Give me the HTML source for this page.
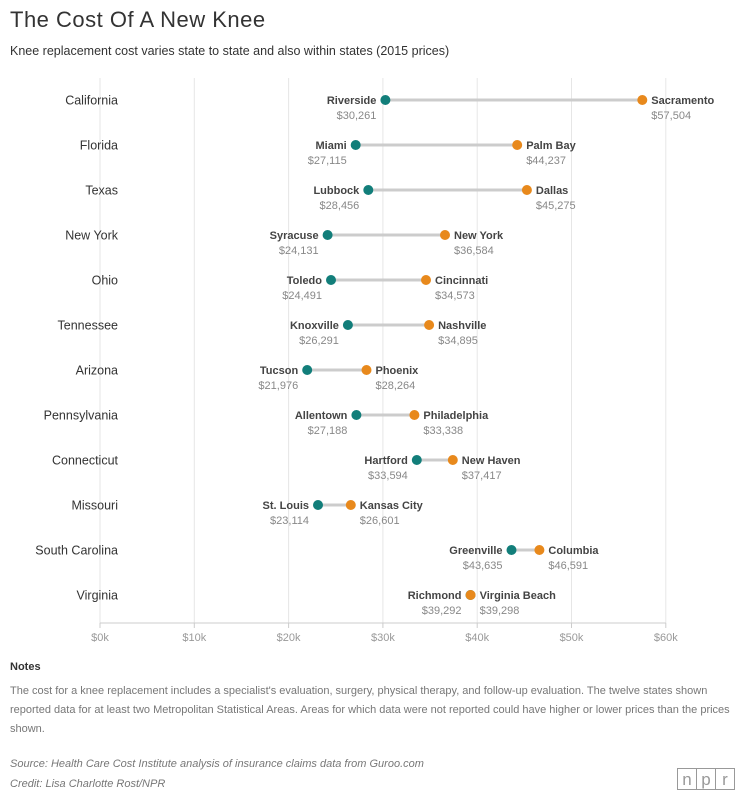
<!DOCTYPE html>
<html><head><meta charset="utf-8"><style>
body{margin:0;background:#fff;}
svg{display:block;font-family:"Liberation Sans",sans-serif;}
.st{font-size:12.5px;fill:#333;text-anchor:end}
.cl{font-size:11px;font-weight:bold;fill:#444;text-anchor:end}
.vl{font-size:11px;fill:#888;text-anchor:end}
.cr{font-size:11px;font-weight:bold;fill:#444}
.vr{font-size:11px;fill:#888}
.ln{stroke:#ccc;stroke-width:3}
.t{fill:#127e7a}.o{fill:#e8891c}
</style></head><body>
<svg width="741" height="798" xmlns="http://www.w3.org/2000/svg">
<text x="10" y="27" font-size="22" fill="#333" letter-spacing="0.5">The Cost Of A New Knee</text>
<text x="10" y="55" font-size="12.5" fill="#333">Knee replacement cost varies state to state and also within states (2015 prices)</text>
<g stroke="#e6e6e6" stroke-width="1">
<line x1="100" y1="78" x2="100" y2="623"/><line x1="194.3" y1="78" x2="194.3" y2="623"/><line x1="288.6" y1="78" x2="288.6" y2="623"/><line x1="382.9" y1="78" x2="382.9" y2="623"/><line x1="477.2" y1="78" x2="477.2" y2="623"/><line x1="571.5" y1="78" x2="571.5" y2="623"/><line x1="665.8" y1="78" x2="665.8" y2="623"/>
</g>
<line x1="100" y1="623" x2="665.8" y2="623" stroke="#ccc"/>
<g stroke="#ccc"><line x1="100" y1="623" x2="100" y2="628"/><line x1="194.3" y1="623" x2="194.3" y2="628"/><line x1="288.6" y1="623" x2="288.6" y2="628"/><line x1="382.9" y1="623" x2="382.9" y2="628"/><line x1="477.2" y1="623" x2="477.2" y2="628"/><line x1="571.5" y1="623" x2="571.5" y2="628"/><line x1="665.8" y1="623" x2="665.8" y2="628"/></g>
<g font-size="11" fill="#999" text-anchor="middle">
<text x="100" y="641">$0k</text><text x="194.3" y="641">$10k</text><text x="288.6" y="641">$20k</text><text x="382.9" y="641">$30k</text><text x="477.2" y="641">$40k</text><text x="571.5" y="641">$50k</text><text x="665.8" y="641">$60k</text>
</g>

<text class="st" x="118" y="104.5">California</text>
<line class="ln" x1="385.4" y1="100" x2="642.3" y2="100"/><circle class="t" cx="385.4" cy="100" r="5"/><circle class="o" cx="642.3" cy="100" r="5"/>
<text class="cl" x="376.4" y="104">Riverside</text><text class="vl" x="376.4" y="119">$30,261</text>
<text class="cr" x="651.3" y="104">Sacramento</text><text class="vr" x="651.3" y="119">$57,504</text>

<text class="st" x="118" y="149.5">Florida</text>
<line class="ln" x1="355.7" y1="145" x2="517.2" y2="145"/><circle class="t" cx="355.7" cy="145" r="5"/><circle class="o" cx="517.2" cy="145" r="5"/>
<text class="cl" x="346.7" y="149">Miami</text><text class="vl" x="346.7" y="164">$27,115</text>
<text class="cr" x="526.2" y="149">Palm Bay</text><text class="vr" x="526.2" y="164">$44,237</text>

<text class="st" x="118" y="194.5">Texas</text>
<line class="ln" x1="368.3" y1="190" x2="526.9" y2="190"/><circle class="t" cx="368.3" cy="190" r="5"/><circle class="o" cx="526.9" cy="190" r="5"/>
<text class="cl" x="359.3" y="194">Lubbock</text><text class="vl" x="359.3" y="209">$28,456</text>
<text class="cr" x="535.9" y="194">Dallas</text><text class="vr" x="535.9" y="209">$45,275</text>

<text class="st" x="118" y="239.5">New York</text>
<line class="ln" x1="327.6" y1="235" x2="445" y2="235"/><circle class="t" cx="327.6" cy="235" r="5"/><circle class="o" cx="445" cy="235" r="5"/>
<text class="cl" x="318.6" y="239">Syracuse</text><text class="vl" x="318.6" y="254">$24,131</text>
<text class="cr" x="454" y="239">New York</text><text class="vr" x="454" y="254">$36,584</text>

<text class="st" x="118" y="284.5">Ohio</text>
<line class="ln" x1="331" y1="280" x2="426" y2="280"/><circle class="t" cx="331" cy="280" r="5"/><circle class="o" cx="426" cy="280" r="5"/>
<text class="cl" x="322" y="284">Toledo</text><text class="vl" x="322" y="299">$24,491</text>
<text class="cr" x="435" y="284">Cincinnati</text><text class="vr" x="435" y="299">$34,573</text>

<text class="st" x="118" y="329.5">Tennessee</text>
<line class="ln" x1="347.9" y1="325" x2="429.1" y2="325"/><circle class="t" cx="347.9" cy="325" r="5"/><circle class="o" cx="429.1" cy="325" r="5"/>
<text class="cl" x="338.9" y="329">Knoxville</text><text class="vl" x="338.9" y="344">$26,291</text>
<text class="cr" x="438.1" y="329">Nashville</text><text class="vr" x="438.1" y="344">$34,895</text>

<text class="st" x="118" y="374.5">Arizona</text>
<line class="ln" x1="307.2" y1="370" x2="366.5" y2="370"/><circle class="t" cx="307.2" cy="370" r="5"/><circle class="o" cx="366.5" cy="370" r="5"/>
<text class="cl" x="298.2" y="374">Tucson</text><text class="vl" x="298.2" y="389">$21,976</text>
<text class="cr" x="375.5" y="374">Phoenix</text><text class="vr" x="375.5" y="389">$28,264</text>

<text class="st" x="118" y="419.5">Pennsylvania</text>
<line class="ln" x1="356.4" y1="415" x2="414.4" y2="415"/><circle class="t" cx="356.4" cy="415" r="5"/><circle class="o" cx="414.4" cy="415" r="5"/>
<text class="cl" x="347.4" y="419">Allentown</text><text class="vl" x="347.4" y="434">$27,188</text>
<text class="cr" x="423.4" y="419">Philadelphia</text><text class="vr" x="423.4" y="434">$33,338</text>

<text class="st" x="118" y="464.5">Connecticut</text>
<line class="ln" x1="416.8" y1="460" x2="452.8" y2="460"/><circle class="t" cx="416.8" cy="460" r="5"/><circle class="o" cx="452.8" cy="460" r="5"/>
<text class="cl" x="407.8" y="464">Hartford</text><text class="vl" x="407.8" y="479">$33,594</text>
<text class="cr" x="461.8" y="464">New Haven</text><text class="vr" x="461.8" y="479">$37,417</text>

<text class="st" x="118" y="509.5">Missouri</text>
<line class="ln" x1="318" y1="505" x2="350.8" y2="505"/><circle class="t" cx="318" cy="505" r="5"/><circle class="o" cx="350.8" cy="505" r="5"/>
<text class="cl" x="309" y="509">St. Louis</text><text class="vl" x="309" y="524">$23,114</text>
<text class="cr" x="359.8" y="509">Kansas City</text><text class="vr" x="359.8" y="524">$26,601</text>

<text class="st" x="118" y="554.5">South Carolina</text>
<line class="ln" x1="511.5" y1="550" x2="539.4" y2="550"/><circle class="t" cx="511.5" cy="550" r="5"/><circle class="o" cx="539.4" cy="550" r="5"/>
<text class="cl" x="502.5" y="554">Greenville</text><text class="vl" x="502.5" y="569">$43,635</text>
<text class="cr" x="548.4" y="554">Columbia</text><text class="vr" x="548.4" y="569">$46,591</text>

<text class="st" x="118" y="599.5">Virginia</text>
<circle class="t" cx="470.5" cy="595" r="5"/><circle class="o" cx="470.6" cy="595" r="5"/>
<text class="cl" x="461.5" y="599">Richmond</text><text class="vl" x="461.5" y="614">$39,292</text>
<text class="cr" x="479.6" y="599">Virginia Beach</text><text class="vr" x="479.6" y="614">$39,298</text>

<text x="10" y="670" font-size="11" font-weight="bold" fill="#333">Notes</text>
<g font-size="11" fill="#777">
<text x="10" y="694">The cost for a knee replacement includes a specialist's evaluation, surgery, physical therapy, and follow-up evaluation. The twelve states shown</text>
<text x="10" y="713">reported data for at least two Metropolitan Statistical Areas. Areas for which data were not reported could have higher or lower prices than the prices</text>
<text x="10" y="732">shown.</text>
<text x="10" y="767" font-style="italic">Source: Health Care Cost Institute analysis of insurance claims data from Guroo.com</text>
<text x="10" y="787" font-style="italic">Credit: Lisa Charlotte Rost/NPR</text>
</g>
<g stroke="#999" fill="#fff" stroke-width="1">
<rect x="677.5" y="768.5" width="19" height="21"/><rect x="696.5" y="768.5" width="19" height="21"/><rect x="715.5" y="768.5" width="19" height="21"/>
</g>
<g font-size="17" fill="#999" text-anchor="middle"><text x="687" y="785">n</text><text x="706" y="785">p</text><text x="725" y="785">r</text></g>
</svg>
</body></html>
